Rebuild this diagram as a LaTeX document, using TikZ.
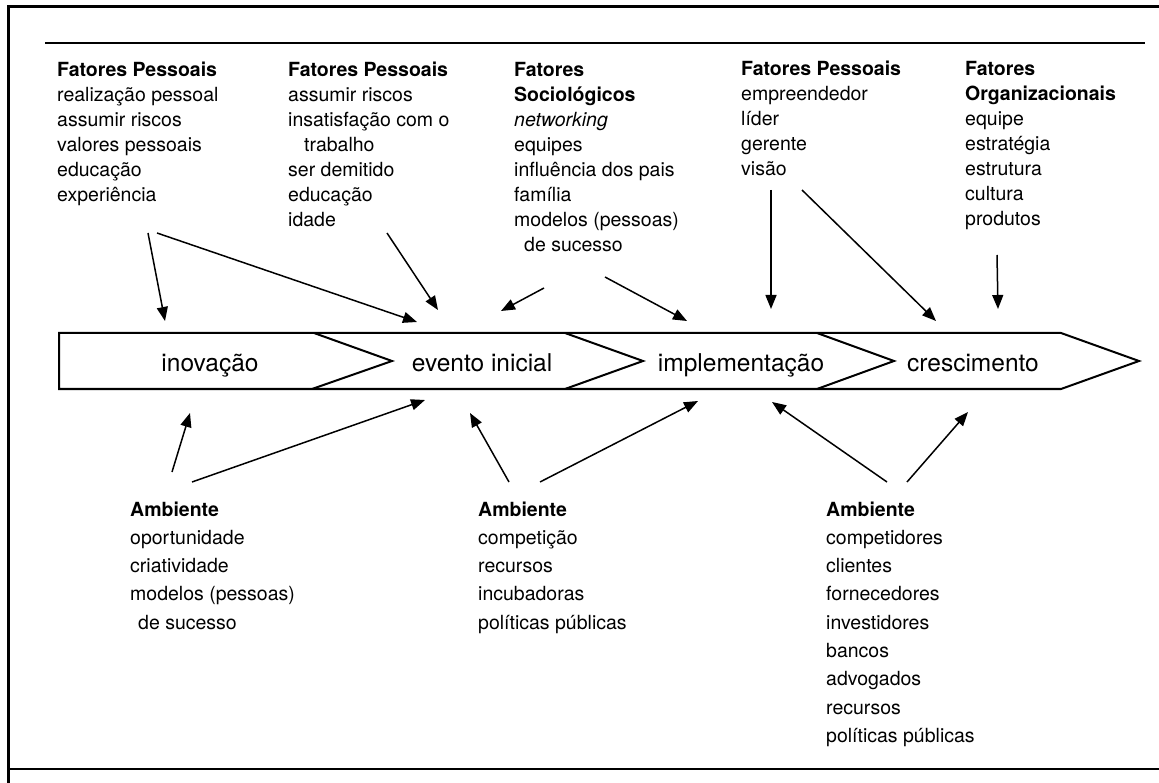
\documentclass[tikz,border=0pt]{standalone}
\usepackage{fontspec}
\setmainfont{TeX Gyre Heros}
\usetikzlibrary{arrows.meta}
\begin{document}
\begin{tikzpicture}[x=1pt,y=-1pt,
  txt/.style={inner sep=0pt, anchor=base west, font=\fontsize{19.5}{25}\selectfont},
  txtb/.style={inner sep=0pt, anchor=base west, font=\fontsize{19.5}{28.3}\selectfont},
  lbl/.style={inner sep=0pt, anchor=base, font=\fontsize{24.5}{29}\selectfont},
  arr/.style={line width=1.5pt, -{Triangle[length=14pt,width=11pt]}},
  framel/.style={line width=3pt},
  rule/.style={line width=2pt},
  band/.style={line width=2pt, line join=miter}]
\useasboundingbox (0,0) rectangle (1159,783);
% frame and rules
\draw[framel] (8,783) -- (8,7) -- (1159,7);
\draw[rule] (45,43) -- (1145,43);
\draw[rule] (8,769) -- (1159,769);
% band
\draw[band] (59,333) -- (1061,333) -- (1139,361) -- (1061,389) -- (59,389) -- cycle;
\draw[band] (314,333) -- (392,361) -- (312,389);
\draw[band] (565,333) -- (643,361) -- (565,389);
\draw[band] (817,333) -- (894,361) -- (817,389);
\node[lbl] (s1) at (210,371) {inovação};
\node[lbl] (s2) at (482,371) {evento inicial};
\node[lbl] (s3) at (741,371) {implementação};
\node[lbl] (s4) at (973,371) {crescimento};
% top groups
\node[txt] (g1) at (57,77) {\begin{tabular}[t]{@{}l@{}}\textbf{Fatores Pessoais}\\ realização pessoal\\ assumir riscos\\ valores pessoais\\ educação\\ experiência\end{tabular}};
\node[txt] (g2) at (288,77) {\begin{tabular}[t]{@{}l@{}}\textbf{Fatores Pessoais}\\ assumir riscos\\ insatisfação com o\\ \hspace*{16pt}trabalho\\ ser demitido\\ educação\\ idade\end{tabular}};
\node[txt] (g3) at (514,77) {\begin{tabular}[t]{@{}l@{}}\textbf{Fatores}\\ \textbf{Sociológicos}\\ \textit{networking}\\ equipes\\ influência dos pais\\ família\\ modelos (pessoas)\\ \hspace*{10pt}de sucesso\end{tabular}};
\node[txt] (g4) at (741,76) {\begin{tabular}[t]{@{}l@{}}\textbf{Fatores Pessoais}\\ empreendedor\\ líder\\ gerente\\ visão\end{tabular}};
\node[txt] (g5) at (965,76) {\begin{tabular}[t]{@{}l@{}}\textbf{Fatores}\\ \textbf{Organizacionais}\\ equipe\\ estratégia\\ estrutura\\ cultura\\ produtos\end{tabular}};
% bottom groups
\node[txtb] (g6) at (130,516) {\begin{tabular}[t]{@{}l@{}}\textbf{Ambiente}\\ oportunidade\\ criatividade\\ modelos (pessoas)\\ \hspace*{8pt}de sucesso\end{tabular}};
\node[txtb] (g7) at (478,516) {\begin{tabular}[t]{@{}l@{}}\textbf{Ambiente}\\ competição\\ recursos\\ incubadoras\\ políticas públicas\end{tabular}};
\node[txtb] (g8) at (826,516) {\begin{tabular}[t]{@{}l@{}}\textbf{Ambiente}\\ competidores\\ clientes\\ fornecedores\\ investidores\\ bancos\\ advogados\\ recursos\\ políticas públicas\end{tabular}};
% connector ends
\coordinate (a1t) at (148,233); \coordinate (a1h) at (165,321);
\coordinate (a2t) at (157,233); \coordinate (a2h) at (417,322);
\coordinate (a3t) at (387,233); \coordinate (a3h) at (438,310);
\coordinate (a4t) at (544,288); \coordinate (a4h) at (501,311);
\coordinate (a5t) at (605,277); \coordinate (a5h) at (687,321);
\coordinate (a6t) at (771,190); \coordinate (a6h) at (771,309);
\coordinate (a7t) at (802,190); \coordinate (a7h) at (936,321);
\coordinate (a8t) at (997,255); \coordinate (a8h) at (998,309);
\coordinate (b1t) at (172,472); \coordinate (b1h) at (190,413);
\coordinate (b2t) at (192,482); \coordinate (b2h) at (425,400);
\coordinate (b3t) at (509,482); \coordinate (b3h) at (470,413);
\coordinate (b4t) at (540,482); \coordinate (b4h) at (698,401);
\coordinate (b5t) at (887,482); \coordinate (b5h) at (772,402);
\coordinate (b6t) at (907,482); \coordinate (b6h) at (968,412);
\foreach \n in {a1,a2,a3,a4,a5,a6,a7,a8,b1,b2,b3,b4,b5,b6}
  \draw[arr] (\n t) -- (\n h);
\end{tikzpicture}
\end{document}
